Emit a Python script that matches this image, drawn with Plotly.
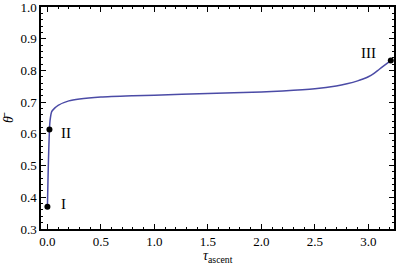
import plotly.graph_objects as go

tau = [0.0, 0.005, 0.01, 0.019, 0.025, 0.04, 0.07, 0.10, 0.2, 0.3, 0.5, 0.8, 1.0, 1.5,
       2.0, 2.2, 2.5, 2.7, 2.8, 2.9, 2.95, 3.0, 3.05, 3.1, 3.15, 3.21]
theta = [0.37, 0.45, 0.52, 0.614, 0.643, 0.67, 0.682, 0.69, 0.704, 0.71, 0.716, 0.72,
         0.722, 0.727, 0.732, 0.735, 0.742, 0.751, 0.758, 0.767, 0.773, 0.780, 0.790,
         0.803, 0.816, 0.831]

pt_tau = [0.0, 0.019, 3.21]
pt_theta = [0.37, 0.614, 0.831]
pt_labels = ["I", "II", "III"]

x_ticks = [0.0, 0.5, 1.0, 1.5, 2.0, 2.5, 3.0]
y_ticks = [0.3, 0.4, 0.5, 0.6, 0.7, 0.8, 0.9, 1.0]

serif = "Liberation Serif"

fig = go.Figure()
fig.add_trace(go.Scatter(x=tau, y=theta, mode="lines",
                         line=dict(color="#4b4ba6", width=1.5, shape="spline", smoothing=0.6),
                         hoverinfo="skip", showlegend=False, cliponaxis=False))
fig.add_trace(go.Scatter(x=pt_tau, y=pt_theta, mode="markers", cliponaxis=False,
                         marker=dict(color="black", size=6), showlegend=False))

offsets = [(16, 3), (17, -4), (-22, 8)]
for (x, y, t), (dx, dy) in zip(zip(pt_tau, pt_theta, pt_labels), offsets):
    fig.add_annotation(x=x, y=y, text=t, showarrow=False, xshift=dx, yshift=dy,
                       font=dict(family=serif, size=15, color="black"))

fig.add_annotation(xref="paper", yref="paper", x=0.5, y=0, yshift=-27, yanchor="middle",
                   text="<i>τ</i><sub>ascent</sub>", showarrow=False,
                   font=dict(family=serif, size=14, color="black"))
fig.add_annotation(xref="paper", yref="paper", x=0, y=0.5, xshift=-33, xanchor="center",
                   text="<i>θ̄</i>", textangle=-90, showarrow=False,
                   font=dict(family=serif, size=14, color="black"))

axis_common = dict(showline=True, linecolor="black", linewidth=1.5, mirror="ticks",
                   ticks="inside", ticklen=5, tickwidth=1, tickcolor="black",
                   showgrid=False, zeroline=False, automargin=False,
                   ticklabeloverflow="allow",
                   tickfont=dict(family=serif, size=13, color="black"))

fig.update_xaxes(range=[-0.06, 3.24], tickvals=x_ticks,
                 ticktext=[f"{v:.1f}" for v in x_ticks],
                 minor=dict(dtick=0.1, tick0=0, ticks="inside", ticklen=2.5, tickcolor="black", showgrid=False),
                 **axis_common)
fig.update_yaxes(range=[0.3, 1.0], tickvals=y_ticks,
                 ticktext=[f"{v:.1f}" for v in y_ticks],
                 minor=dict(dtick=0.02, tick0=0.3, ticks="inside", ticklen=2.5, tickcolor="black", showgrid=False),
                 **axis_common)

fig.update_layout(width=399, height=264, margin=dict(l=41, r=5, t=7, b=35),
                  plot_bgcolor="white", paper_bgcolor="white")

fig.write_html("out.html", config={"displayModeBar": False},
               post_script="document.body.style.margin='0px';")
